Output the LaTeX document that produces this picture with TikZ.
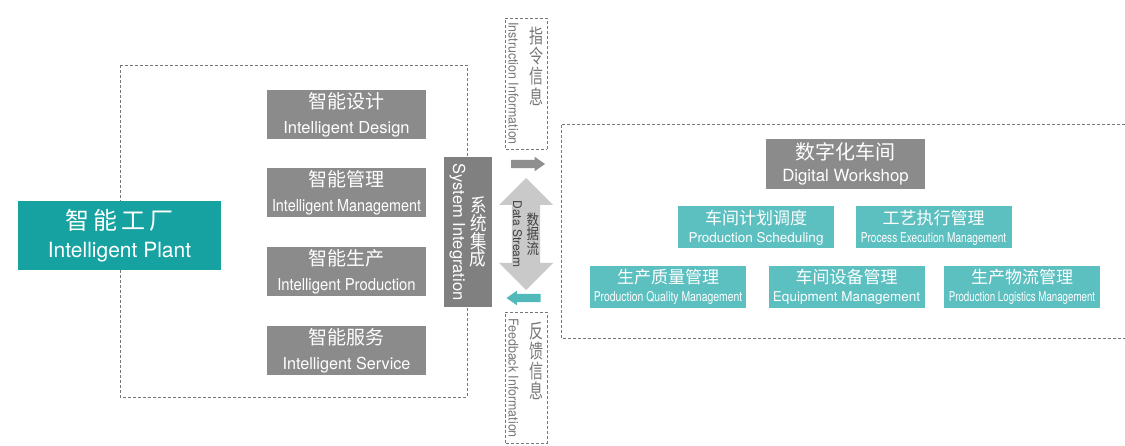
\documentclass[tikz,border=0pt]{standalone}
\usepackage{fontspec}
\setmainfont{TeX Gyre Heros}
\newfontfamily\cjk{Noto Sans CJK SC}
\usetikzlibrary{shapes.arrows}

\definecolor{plantteal}{HTML}{17A2A2}
\definecolor{shopteal}{HTML}{5CBFC0}
\definecolor{boxgray}{HTML}{8B8B8B}
\definecolor{integray}{HTML}{808080}
\definecolor{streamgray}{HTML}{C9C9C9}
\definecolor{arrowgray}{HTML}{8F8F8F}
\definecolor{arrowteal}{HTML}{52B9BA}
\definecolor{dashgray}{HTML}{777777}

% squeeze a label horizontally
\newcommand{\sx}[2]{\scalebox{#1}[1]{#2}}
% chinese characters kept upright inside a turned node
\newcommand{\upzh}[3]{\foreach \zhch in {#3}{\rotatebox[origin=c]{90}{\scalebox{1}[#1]{\zhch}}\hspace{#2}}\unskip}

\tikzset{
	dashline/.style={draw=dashgray, dash pattern=on 3pt off 2pt, line width=0.7pt},
	plantbox/.style={fill=plantteal, text=white, minimum width=203pt, minimum height=69pt,
		inner sep=0pt, align=center, font=\fontsize{21}{28}\selectfont},
	graybox/.style={fill=boxgray, text=white, minimum width=159pt, minimum height=49pt,
		inner sep=0pt, align=center, font=\fontsize{16.5}{25}\selectfont},
	intebox/.style={fill=integray, text=white, minimum width=150pt, minimum height=48pt,
		inner sep=0pt, align=center, rotate=-90, font=\fontsize{16.5}{18}\selectfont},
	infobox/.style={dashline, text=dashgray, minimum width=131pt, minimum height=42pt,
		inner xsep=3pt, inner ysep=0pt, align=left, rotate=-90, font=\fontsize{13.5}{20}\selectfont},
	shopbox/.style={fill=boxgray, text=white, minimum width=159pt, minimum height=50pt,
		inner sep=0pt, align=center, font=\fontsize{16.8}{22}\selectfont},
	tealbox/.style={fill=shopteal, text=white, minimum width=156pt, minimum height=42pt,
		inner sep=0pt, align=center, font=\fontsize{13.5}{18}\selectfont},
	smallarrow/.style={single arrow, minimum height=34pt, inner xsep=0pt, inner ysep=4pt,
		single arrow head extend=3pt, single arrow tip angle=70},
}

\begin{document}
\begin{tikzpicture}[x=1pt, y=-1pt]
	\useasboundingbox[fill=white] (0,0) rectangle (1125,446);

	% dashed frames of the two sides
	\draw[dashline] (120,65) rectangle (467,397);
	\draw[dashline] (1125,124) -- (561,124) -- (561,338) -- (1125,338);

	% intelligent plant side
	\node[plantbox] (plant) at (119.5,235.5)
		{{\cjk\fontsize{24}{28}\selectfont 智\hspace{4pt}能\hspace{4pt}工\hspace{4pt}厂}\\Intelligent Plant};

	\node[graybox] (design) at (346.5,114.5) {{\cjk\fontsize{19}{25}\selectfont 智能设计}\\Intelligent Design};
	\node[graybox] (manage) at (346.5,193) {{\cjk\fontsize{19}{25}\selectfont 智能管理}\\\sx{0.87}{Intelligent Management}};
	\node[graybox] (produce) at (346.5,272) {{\cjk\fontsize{19}{25}\selectfont 智能生产}\\\sx{0.9}{Intelligent Production}};
	\node[graybox] (service) at (346.5,350.5) {{\cjk\fontsize{19}{25}\selectfont 智能服务}\\\sx{0.98}{Intelligent Service}};

	\node[intebox] (integ) at (468,232) {{\cjk\fontsize{16.5}{18}\selectfont\upzh{1.15}{0.5pt}{系,统,集,成}}\\System Integration};

	% information flow in the middle
	\node[infobox] (instr) at (526,83.5) {\hspace{5pt}{\cjk\fontsize{14}{20}\selectfont\upzh{1.4}{2pt}{指,令,信,息}}\\\sx{0.92}{Instruction Information}};
	\node[infobox] (feedb) at (526,378) {\hspace{4pt}{\cjk\fontsize{14}{20}\selectfont\upzh{1.4}{2pt}{反,馈,信,息}}\\\sx{0.92}{Feedback Information}};

	\node[smallarrow, fill=arrowgray] (toshop) at (525,164) {};
	\node[double arrow, fill=streamgray, rotate=-90, minimum height=112pt, minimum width=54pt,
		inner sep=0pt, double arrow head extend=12pt, align=center, text=black!75,
		font=\fontsize{12}{14}\selectfont] (stream) at (526,234)
		{{\cjk\fontsize{12.5}{14}\selectfont\upzh{1.2}{0.5pt}{数,据,流}}\\Data Stream};
	\node[smallarrow, fill=arrowteal, rotate=180] (toplant) at (526.5,298) {};

	% digital workshop side
	\node[shopbox] (shop) at (845.5,164) {{\cjk\fontsize{20}{22}\selectfont 数字化车间}\\Digital Workshop};

	\node[tealbox] (sched) at (756,227.5) {{\cjk\fontsize{17}{18}\selectfont 车间计划调度}\\Production Scheduling};
	\node[tealbox] (exec) at (933.5,227.5) {{\cjk\fontsize{17}{18}\selectfont 工艺执行管理}\\\sx{0.75}{Process Execution Management}};
	\node[tealbox] (quality) at (668,287) {{\cjk\fontsize{17}{18}\selectfont 生产质量管理}\\\sx{0.77}{Production Quality Management}};
	\node[tealbox] (equip) at (846.5,287) {{\cjk\fontsize{17}{18}\selectfont 车间设备管理}\\Equipment Management};
	\node[tealbox] (logist) at (1022,287) {{\cjk\fontsize{17}{18}\selectfont 生产物流管理}\\\sx{0.72}{Production Logistics Management}};
\end{tikzpicture}
\end{document}
